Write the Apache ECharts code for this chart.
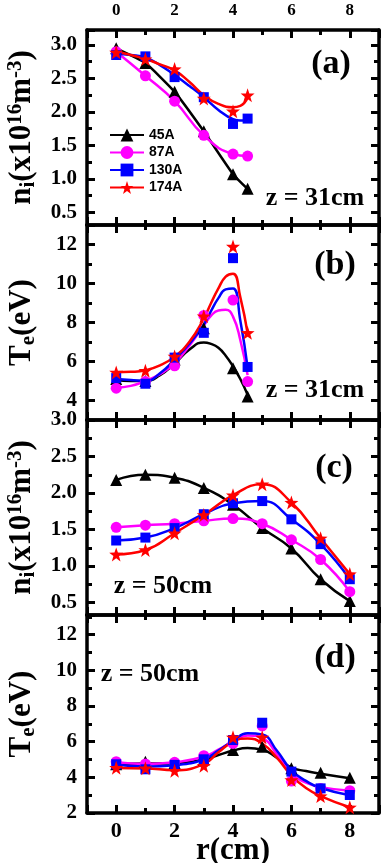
<!DOCTYPE html>
<html>
<head>
<meta charset="utf-8">
<script src="https://cdn.jsdelivr.net/npm/echarts@6/dist/echarts.min.js"></script>
<style>
  html, body { margin: 0; padding: 0; background: #fff; }
  #chart { width: 382px; height: 863px; }
</style>
</head>
<body>
<div id="chart"></div>
<script>
// radial positions r (cm)
const rZ31 = [0, 1, 2, 3, 4, 4.5];
const rZ50 = [0, 1, 2, 3, 4, 5, 6, 7, 8];
const currents = ['45A', '87A', '130A', '174A'];

// (a) ion density n_i (x10^16 m^-3) at z = 31 cm
const niZ31_45 = [2.95, 2.73, 2.30, 1.71, 1.07, 0.85];
const niZ31_87 = [2.90, 2.54, 2.16, 1.65, 1.37, 1.34];
const niZ31_130 = [2.85, 2.83, 2.52, 2.22, 1.82, 1.90];
const niZ31_174 = [2.89, 2.79, 2.64, 2.20, 2.01, 2.25];
// fitted curves in (a) that do not pass through the points
const rFitA = [0, 0.5, 1, 1.5, 2, 2.5, 3, 3.5, 4, 4.25, 4.5];
const niFitZ31_130 = [2.87, 2.85, 2.81, 2.70, 2.55, 2.39, 2.22, 2.03, 1.89, 1.87, 1.88];
const niFitZ31_174 = [2.90, 2.85, 2.79, 2.71, 2.62, 2.45, 2.25, 2.12, 2.07, 2.09, 2.21];

// (b) electron temperature T_e (eV) at z = 31 cm
const teZ31_45 = [5.10, 5.00, 6.10, 7.70, 5.65, 4.20];
const teZ31_87 = [4.63, 4.97, 5.78, 8.36, 9.15, 4.97];
const teZ31_130 = [5.15, 4.86, 6.20, 7.47, 11.3, 5.72];
const teZ31_174 = [5.44, 5.53, 6.26, 8.32, 11.9, 7.47];
const rFitB = [0, 0.5, 1, 1.5, 2, 2.5, 3, 3.25, 3.5, 3.75, 4, 4.25, 4.5];
const teFitZ31_45 = [5.05, 5.00, 5.00, 5.30, 5.90, 6.60, 6.98, 6.90, 6.70, 6.30, 5.75, 5.10, 4.30];
const teFitZ31_87 = [4.65, 4.75, 5.00, 5.35, 5.90, 6.80, 7.85, 8.35, 8.62, 8.65, 8.30, 7.10, 5.30];
const teFitZ31_130 = [5.10, 5.05, 5.00, 5.40, 6.10, 6.90, 7.90, 8.60, 9.25, 9.70, 9.75, 8.10, 5.70];
const teFitZ31_174 = [5.45, 5.47, 5.55, 5.80, 6.25, 7.00, 8.20, 9.00, 9.75, 10.35, 10.50, 9.30, 7.45];

// (c) ion density at z = 50 cm
const niZ50_45 = [2.18, 2.25, 2.21, 2.07, 1.84, 1.52, 1.24, 0.82, 0.52];
const niZ50_87 = [1.53, 1.56, 1.58, 1.62, 1.65, 1.58, 1.36, 1.09, 0.65];
const niZ50_130 = [1.35, 1.39, 1.52, 1.71, 1.86, 1.89, 1.64, 1.30, 0.82];
const niZ50_174 = [1.16, 1.22, 1.45, 1.70, 1.97, 2.12, 1.87, 1.38, 0.89];

// (d) electron temperature at z = 50 cm
const teZ50_45 = [4.73, 4.88, 4.80, 5.00, 5.53, 5.72, 4.51, 4.26, 3.98];
const teZ50_87 = [4.88, 4.75, 4.84, 5.21, 5.90, 6.88, 3.79, 3.38, 3.25];
const teZ50_130 = [4.73, 4.45, 4.70, 5.01, 6.09, 7.06, 4.32, 3.38, 3.01];
const teZ50_174 = [4.54, 4.51, 4.37, 4.65, 6.24, 6.24, 3.85, 2.95, 2.32];
const rFitD = [0, 1, 2, 3, 3.5, 4, 4.5, 5, 5.5, 6, 6.5, 7, 8];
const teFitZ50_45 = [4.75, 4.78, 4.78, 5.00, 5.25, 5.50, 5.64, 5.55, 5.10, 4.55, 4.35, 4.20, 3.95];
const teFitZ50_87 = [4.85, 4.75, 4.85, 5.15, 5.55, 6.00, 6.35, 6.20, 5.30, 4.20, 3.70, 3.45, 3.25];
const teFitZ50_130 = [4.70, 4.60, 4.68, 5.00, 5.50, 6.05, 6.47, 6.40, 5.50, 4.40, 3.80, 3.40, 3.00];
const teFitZ50_174 = [4.52, 4.50, 4.40, 4.75, 5.40, 6.00, 6.18, 5.90, 5.10, 4.10, 3.40, 2.95, 2.32];

const pair = (xs, ys) => xs.map((x, i) => [x, ys[i]]);

const serif = "'Liberation Serif', 'Times New Roman', serif";
const colors = ['#000000', '#ff00ff', '#0000ff', '#ff0000'];
const starPath = 'path://M0,-10L2.35,-3.24L9.51,-3.09L3.8,1.24L5.88,8.09L0,4L-5.88,8.09L-3.8,1.24L-9.51,-3.09L-2.35,-3.24Z';
const symbols = ['triangle', 'circle', 'rect', starPath];
const symbolSizes = [12, 11, 10, 14];

const panels = [
  {
    points: [niZ31_45, niZ31_87, niZ31_130, niZ31_174], r: rZ31,
    fits: [[rZ31, niZ31_45], [rZ31, niZ31_87], [rFitA, niFitZ31_130], [rFitA, niFitZ31_174]],
    smooth: [0.15, 0.5, 0.5, 0.5],
    top: 30, height: 195, min: 0.31, max: 3.224, showMax: false, showMin: false, name: 'n'
  },
  {
    points: [teZ31_45, teZ31_87, teZ31_130, teZ31_174], r: rZ31,
    fits: [[rFitB, teFitZ31_45], [rFitB, teFitZ31_87], [rFitB, teFitZ31_130], [rFitB, teFitZ31_174]],
    smooth: [0.5, 0.5, 0.5, 0.5],
    top: 225, height: 195, min: 3, max: 13, showMax: false, showMin: false, name: 'T'
  },
  {
    points: [niZ50_45, niZ50_87, niZ50_130, niZ50_174], r: rZ50,
    fits: [[rZ50, niZ50_45], [rZ50, niZ50_87], [rZ50, niZ50_130], [rZ50, niZ50_174]],
    smooth: [0.5, 0.5, 0.5, 0.5],
    top: 420, height: 195, min: 0.33, max: 3.0, showMax: true, showMin: false, name: 'n'
  },
  {
    points: [teZ50_45, teZ50_87, teZ50_130, teZ50_174], r: rZ50,
    fits: [[rFitD, teFitZ50_45], [rFitD, teFitZ50_87], [rFitD, teFitZ50_130], [rFitD, teFitZ50_174]],
    smooth: [0.5, 0.5, 0.5, 0.5],
    top: 615, height: 198, min: 2, max: 13.1, showMax: false, showMin: true, name: 'T'
  }
];

const axisLine = { show: true, onZero: false, lineStyle: { color: '#000', width: 3.5 } };
const axisTick = { show: true, inside: true, length: 8, lineStyle: { color: '#000', width: 3 } };
const minorTick = { show: true, splitNumber: 2, length: 5, lineStyle: { color: '#000', width: 3 } };

const nameRich = {
  b: { fontFamily: serif, fontWeight: 'bold', fontSize: 31, lineHeight: 34, color: '#000' },
  s: { fontFamily: serif, fontWeight: 'bold', fontSize: 21, lineHeight: 7, verticalAlign: 'bottom', color: '#000' },
  p: { fontFamily: serif, fontWeight: 'bold', fontSize: 21, lineHeight: 9, verticalAlign: 'top', color: '#000' }
};
const axisNames = {
  n: '{b|n}{s|i}{b|(x10}{p|16}{b|m}{p|-3}{b|)}',
  T: '{b|T}{s|e}{b|(eV)}'
};

const grid = [], xAxis = [], yAxis = [], series = [];

panels.forEach((p, i) => {
  grid.push({ left: 87, right: 3, top: p.top, height: p.height, containLabel: false, outerBoundsMode: 'none' });
  // bottom and top x axes
  xAxis.push({
    type: 'value', gridIndex: i, position: 'bottom', min: -1, max: 9, splitNumber: 5,
    axisLine, axisTick, minorTick, splitLine: { show: false },
    axisLabel: {
      show: i === 3, showMinLabel: false, showMaxLabel: false, margin: 7,
      fontFamily: serif, fontWeight: 'bold', fontSize: 22, color: '#000'
    },
    name: i === 3 ? 'r(cm)' : '', nameLocation: 'middle', nameGap: 22, nameMoveOverlap: false,
    nameTextStyle: { fontFamily: serif, fontWeight: 'bold', fontSize: 31, color: '#000' }
  });
  xAxis.push({
    type: 'value', gridIndex: i, position: 'top', min: -1, max: 9, splitNumber: 5,
    axisLine, axisTick, minorTick, splitLine: { show: false },
    axisLabel: {
      show: i === 0, showMinLabel: false, showMaxLabel: false, margin: 11,
      fontFamily: serif, fontWeight: 'bold', fontSize: 17, color: '#000'
    }
  });
  // left and right y axes
  yAxis.push({
    type: 'value', gridIndex: i, position: 'left', min: p.min, max: p.max, splitNumber: 5,
    axisLine, axisTick, minorTick, splitLine: { show: false },
    axisLabel: {
      showMinLabel: p.showMin, showMaxLabel: p.showMax, margin: 10,
      fontFamily: serif, fontWeight: 'bold', fontSize: 21, color: '#000',
      formatter: v => (p.name === 'n' ? v.toFixed(1) : String(v))
    },
    name: axisNames[p.name], nameLocation: 'middle', nameRotate: 90, nameGap: 48,
    nameTextStyle: { rich: nameRich }
  });
  yAxis.push({
    type: 'value', gridIndex: i, position: 'right', min: p.min, max: p.max, splitNumber: 5,
    axisLine, axisTick, minorTick, splitLine: { show: false }, axisLabel: { show: false }
  });

  // fitted curves
  currents.forEach((c, k) => {
    series.push({
      name: c, type: 'line', xAxisIndex: 2 * i, yAxisIndex: 2 * i,
      data: pair(p.fits[k][0], p.fits[k][1]), smooth: p.smooth[k],
      showSymbol: false, symbol: symbols[k], symbolSize: symbolSizes[k],
      lineStyle: { color: colors[k], width: 2.5 }, itemStyle: { color: colors[k] },
      z: 2 + k, silent: true
    });
  });
  // measured points
  currents.forEach((c, k) => {
    series.push({
      name: c, type: 'scatter', xAxisIndex: 2 * i, yAxisIndex: 2 * i,
      data: pair(p.r, p.points[k]), symbol: symbols[k], symbolSize: symbolSizes[k],
      itemStyle: { color: colors[k], opacity: 1 }, z: 6 + k, silent: true
    });
  });
});

const textStyle = (text, x, y, size) => ({
  type: 'text', x, y, z: 100,
  style: { text, fill: '#000', font: `bold ${size}px ${serif}`, align: 'center', verticalAlign: 'middle' }
});

const chart = echarts.init(document.getElementById('chart'));
chart.setOption({
  animation: false,
  backgroundColor: '#fff',
  grid, xAxis, yAxis, series,
  legend: {
    data: currents, orient: 'vertical', left: 104, top: 123,
    itemWidth: 34, itemHeight: 16, itemGap: 3.5, selectedMode: false,
    textStyle: { fontFamily: "'Liberation Sans', Arial, sans-serif", fontWeight: 'bold', fontSize: 14, color: '#000' }
  },
  graphic: [
    textStyle('(a)', 331, 64, 34),
    textStyle('(b)', 335, 265, 34),
    textStyle('(c)', 334, 468, 34),
    textStyle('(d)', 335, 658, 34),
    textStyle('z = 31cm', 315, 198, 26),
    textStyle('z = 31cm', 315, 390, 26),
    textStyle('z = 50cm', 163, 586, 26),
    textStyle('z = 50cm', 150, 674, 26)
  ]
});
</script>
</body>
</html>
